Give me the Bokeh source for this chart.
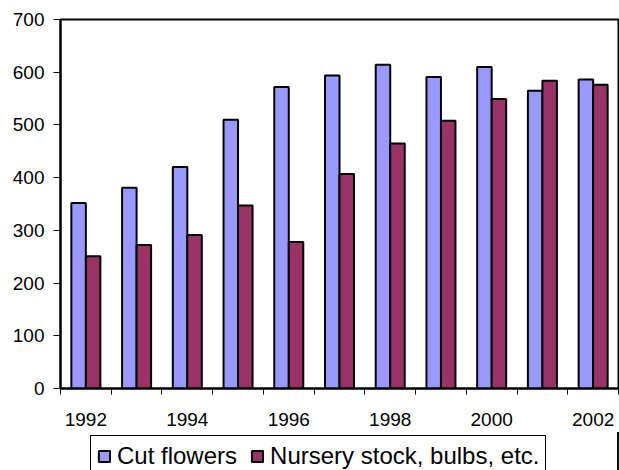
from bokeh.plotting import figure
from bokeh.layouts import column
from bokeh.models import Range1d, FixedTicker, Legend, LegendItem, ColumnDataSource
from bokeh.transform import dodge
from bokeh.embed import file_html
from bokeh.resources import INLINE

years = [1992, 1993, 1994, 1995, 1996, 1997, 1998, 1999, 2000, 2001, 2002]
cut_flowers = [352, 381, 420, 510, 572, 594, 614, 591, 610, 565, 586]
nursery_stock = [251, 272, 291, 347, 278, 407, 465, 508, 549, 584, 576]
year_ticks = [1992, 1994, 1996, 1998, 2000, 2002]
y_ticks = [0, 100, 200, 300, 400, 500, 600, 700]
series_names = ["Cut flowers", "Nursery stock, bulbs, etc."]
series_colors = ["#9999FF", "#993366"]

FONT = "Liberation Sans"

src = ColumnDataSource(dict(year=years, cut=cut_flowers, nursery=nursery_stock))

# ---- main chart ----
p = figure(width=619, height=432,
           x_range=Range1d(years[0] - 0.5, years[-1] + 0.5),
           y_range=Range1d(y_ticks[0], y_ticks[-1]),
           output_backend="svg", toolbar_location=None,
           min_border_left=60, min_border_right=1, min_border_top=19, min_border_bottom=44)
p.grid.visible = False
p.outline_line_color = "black"
p.outline_line_width = 2
p.outline_line_alpha = 1
p.background_fill_color = "white"
p.border_fill_color = "white"

bw = 0.286
p.vbar(x=dodge('year', -bw / 2), top='cut', width=bw, source=src,
       fill_color=series_colors[0], line_color="black", line_width=2)
p.vbar(x=dodge('year', bw / 2), top='nursery', width=bw, source=src,
       fill_color=series_colors[1], line_color="black", line_width=2)

xa = p.xaxis[0]
xa.ticker = FixedTicker(ticks=year_ticks, minor_ticks=[y - 0.5 for y in years] + [years[-1] + 0.5])
xa.major_tick_out = 0
xa.major_tick_in = 0
xa.minor_tick_out = 6
xa.minor_tick_in = 0
xa.minor_tick_line_color = "black"
xa.minor_tick_line_width = 1
xa.axis_line_color = "black"
xa.axis_line_width = 2
xa.major_label_text_font = FONT
xa.major_label_text_font_size = "19px"
xa.major_label_text_color = "black"
xa.major_label_standoff = 18

ya = p.yaxis[0]
ya.ticker = FixedTicker(ticks=y_ticks)
ya.major_tick_out = 7
ya.major_tick_in = 0
ya.major_tick_line_color = "black"
ya.major_tick_line_width = 1
ya.minor_tick_line_color = None
ya.axis_line_color = "black"
ya.axis_line_width = 2
ya.major_label_text_font = FONT
ya.major_label_text_font_size = "19px"
ya.major_label_text_color = "black"
ya.major_label_standoff = 9

# ---- legend strip: same bars, but outside this strip's visible ranges (only swatches show) ----
lg = figure(width=619, height=38, x_range=Range1d(0, 1), y_range=Range1d(0, 1),
            output_backend="svg", toolbar_location=None,
            x_axis_location=None, y_axis_location=None,
            min_border_left=60, min_border_right=1, min_border_top=0, min_border_bottom=0)
lg.grid.visible = False
lg.outline_line_color = None
lg.background_fill_color = "white"
lg.border_fill_color = "white"
e1 = lg.vbar(x='year', top='cut', width=bw, source=src,
             fill_color=series_colors[0], line_color="black", line_width=2)
e2 = lg.vbar(x='year', top='nursery', width=bw, source=src,
             fill_color=series_colors[1], line_color="black", line_width=2)

legend = Legend(items=[LegendItem(label=series_names[0], renderers=[e1]),
                       LegendItem(label=series_names[1], renderers=[e2])],
                orientation="horizontal", location=(30, -7))
legend.label_text_font = FONT
legend.label_text_font_size = "24px"
legend.label_text_color = "black"
legend.border_line_color = "black"
legend.border_line_width = 1
legend.border_line_alpha = 1
legend.padding = 6
legend.spacing = 13
legend.margin = 0
legend.glyph_width = 14
legend.glyph_height = 14
legend.label_standoff = 6
legend.background_fill_alpha = 1
lg.add_layout(legend, "center")

layout = column(p, lg, spacing=0)
open("out.html", "w").write(file_html(layout, INLINE))
